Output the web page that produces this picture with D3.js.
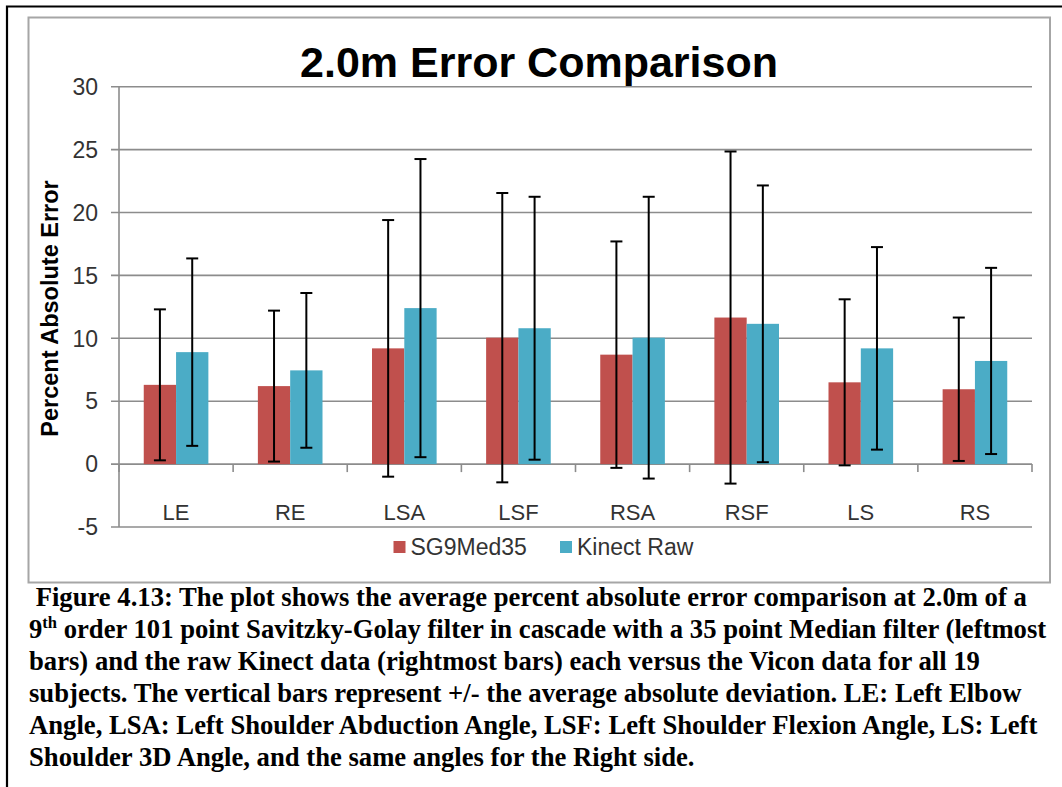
<!DOCTYPE html>
<html>
<head>
<meta charset="utf-8">
<script src="https://cdn.jsdelivr.net/npm/d3@7"></script>
<style>
  body { margin: 0; background: #fff; }
  svg { display: block; }
</style>
</head>
<body>
<div id="chart"></div>
<script>
// chart values
const categories = ["LE", "RE", "LSA", "LSF", "RSA", "RSF", "LS", "RS"];
const seriesNames = ["SG9Med35", "Kinect Raw"];
const seriesColors = ["#c0504d", "#4bacc6"];
const sgMeans = [6.3, 6.2, 9.2, 10.05, 8.7, 11.65, 6.5, 5.95];
const sgDevs = [6.0, 6.0, 10.2, 11.5, 9.0, 13.2, 6.6, 5.7];
const rawMeans = [8.9, 7.45, 12.4, 10.8, 10.05, 11.15, 9.2, 8.2];
const rawDevs = [7.45, 6.15, 11.85, 10.45, 11.2, 11.0, 8.05, 7.4];
const yTicks = [-5, 0, 5, 10, 15, 20, 25, 30];

const captionLines = [
  " Figure 4.13: The plot shows the average percent absolute error comparison at 2.0m of a",
  ["9", "th", " order 101 point Savitzky-Golay filter in cascade with a 35 point Median filter (leftmost"],
  "bars) and the raw Kinect data (rightmost bars) each versus the Vicon data for all 19",
  "subjects. The vertical bars represent +/- the average absolute deviation. LE: Left Elbow",
  "Angle, LSA: Left Shoulder Abduction Angle, LSF: Left Shoulder Flexion Angle, LS: Left",
  "Shoulder 3D Angle, and the same angles for the Right side."
];

const W = 1062, H = 787;
const plot = { left: 119, right: 1032, top: 86.7, bottom: 527 };
const sansFont = "'Liberation Sans', Arial, sans-serif";
const serifFont = "'Liberation Serif', 'Times New Roman', serif";

const svg = d3.select("#chart").append("svg")
  .attr("width", W).attr("height", H);

// outer page frame (black, top + left only)
svg.append("path")
  .attr("d", `M7,${H} L7,6.5 L${W},6.5`)
  .attr("fill", "none").attr("stroke", "#000").attr("stroke-width", 2.2);

// chart area frame
svg.append("rect")
  .attr("x", 28.5).attr("y", 17.5)
  .attr("width", 1050 - 28.5).attr("height", 582.5 - 17.5)
  .attr("fill", "#fff").attr("stroke", "#a6a6a6").attr("stroke-width", 2);

const x0 = d3.scaleBand().domain(categories)
  .range([plot.left, plot.right]).paddingInner(0).paddingOuter(0);
const x1 = d3.scaleBand().domain(seriesNames)
  .range([0, x0.bandwidth()]).paddingInner(0).paddingOuter(0.766);
const y = d3.scaleLinear().domain([-5, 30]).range([plot.bottom, plot.top]);

// gridlines + y ticks
svg.append("g").selectAll("line").data(yTicks).join("line")
  .attr("x1", plot.left - 8).attr("x2", plot.right)
  .attr("y1", d => y(d)).attr("y2", d => y(d))
  .attr("stroke", "#8c8c8c").attr("stroke-width", 1.6);

// y axis line
svg.append("line")
  .attr("x1", plot.left).attr("x2", plot.left)
  .attr("y1", y(30)).attr("y2", y(-5))
  .attr("stroke", "#8c8c8c").attr("stroke-width", 1.6);

svg.append("g").selectAll("text").data(yTicks).join("text")
  .attr("x", plot.left - 21).attr("y", d => y(d))
  .attr("dy", "0.36em")
  .attr("text-anchor", "end")
  .attr("font-family", sansFont).attr("font-size", 23)
  .attr("fill", "#333")
  .text(d => d);

// category tick marks below zero line
const catEdges = categories.map(c => x0(c)).concat([plot.right]);
svg.append("g").selectAll("line").data(catEdges).join("line")
  .attr("x1", d => d).attr("x2", d => d)
  .attr("y1", y(0)).attr("y2", y(0) + 8)
  .attr("stroke", "#8c8c8c").attr("stroke-width", 1.6);

// bars
const rows = categories.map((c, i) => [
  { cat: c, s: seriesNames[0], mean: sgMeans[i], dev: sgDevs[i], color: seriesColors[0] },
  { cat: c, s: seriesNames[1], mean: rawMeans[i], dev: rawDevs[i], color: seriesColors[1] }
]).flat();

svg.append("g").selectAll("rect").data(rows).join("rect")
  .attr("x", d => x0(d.cat) + x1(d.s))
  .attr("width", x1.bandwidth())
  .attr("y", d => y(d.mean))
  .attr("height", d => y(0) - y(d.mean))
  .attr("fill", d => d.color);

// error bars
const eb = svg.append("g").attr("stroke", "#000").attr("stroke-width", 2);
rows.forEach(d => {
  const cx = x0(d.cat) + x1(d.s) + x1.bandwidth() / 2;
  const hi = y(d.mean + d.dev), lo = y(d.mean - d.dev);
  eb.append("line").attr("x1", cx).attr("x2", cx).attr("y1", hi).attr("y2", lo);
  eb.append("line").attr("x1", cx - 6).attr("x2", cx + 6).attr("y1", hi).attr("y2", hi);
  eb.append("line").attr("x1", cx - 6).attr("x2", cx + 6).attr("y1", lo).attr("y2", lo);
});

// category labels
svg.append("g").selectAll("text").data(categories).join("text")
  .attr("x", d => x0(d) + x0.bandwidth() / 2)
  .attr("y", 520)
  .attr("text-anchor", "middle")
  .attr("font-family", sansFont).attr("font-size", 22)
  .attr("fill", "#333")
  .text(d => d);

// title
svg.append("text")
  .attr("x", 539).attr("y", 77)
  .attr("text-anchor", "middle")
  .attr("font-family", sansFont).attr("font-size", 43).attr("font-weight", "bold")
  .attr("fill", "#000")
  .text("2.0m Error Comparison");

// y axis title
svg.append("text")
  .attr("transform", "translate(58,308.5) rotate(-90)")
  .attr("text-anchor", "middle")
  .attr("font-family", sansFont).attr("font-size", 23.5).attr("font-weight", "bold")
  .attr("fill", "#000")
  .text("Percent Absolute Error");

// legend
const legendX = [393.5, 560];
const lg = svg.append("g").selectAll("g").data(seriesNames).join("g")
  .attr("transform", (d, i) => `translate(${legendX[i]},541)`);
lg.append("rect").attr("width", 12).attr("height", 12)
  .attr("fill", (d, i) => seriesColors[i]);
lg.append("text").attr("x", 17).attr("y", 13.5)
  .attr("font-family", sansFont).attr("font-size", 23)
  .attr("fill", "#333")
  .text(d => d);

// caption
const cap = svg.append("g")
  .attr("font-family", serifFont).attr("font-size", 24).attr("font-weight", "bold")
  .attr("fill", "#000");
const capTexts = captionLines.map((line, i) => {
  const t = cap.append("text").attr("x", 29).attr("y", 606 + i * 32)
    .attr("xml:space", "preserve").style("white-space", "pre");
  if (Array.isArray(line)) {
    t.append("tspan").text(line[0]);
    t.append("tspan").attr("class", "sup").attr("font-size", 15).attr("dy", -10).text(line[1]);
    t.append("tspan").attr("dy", 10).text(line[2]);
  } else {
    t.text(line);
  }
  return t;
});
// fit the longest caption line to the page width
const w2 = capTexts[1].node().getComputedTextLength();
const fs = 24 * (1047 - 29) / w2;
cap.attr("font-size", fs);
cap.selectAll(".sup").attr("font-size", fs * 0.62);
</script>
</body>
</html>
